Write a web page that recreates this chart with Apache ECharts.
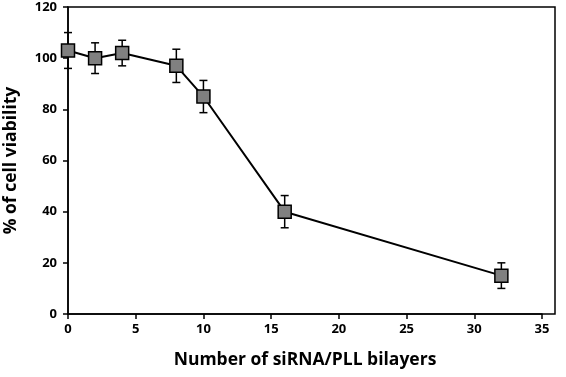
<!DOCTYPE html>
<html>
<head>
<meta charset="utf-8">
<script src="https://cdn.jsdelivr.net/npm/echarts@6/dist/echarts.min.js"></script>
<style>
  html, body { margin: 0; padding: 0; background: #fff; }
  #chart { width: 566px; height: 377px; }
</style>
</head>
<body>
<div id="chart"></div>
<script>
// bilayer counts and viability (%) with error (+/-)
const layers = [0, 2, 4, 8, 10, 16, 32];
const viability = [103, 100, 102, 97, 85, 40, 15];
const errors = [7, 6, 5, 6.5, 6.3, 6.3, 5];
const xTicks = [0, 5, 10, 15, 20, 25, 30, 35];
const yTicks = [0, 20, 40, 60, 80, 100, 120];

const font = 'Open Sans, Liberation Sans, sans-serif';

const lineData = layers.map((x, i) => [x, viability[i]]);
const errData = layers.map((x, i) => [x, viability[i] - errors[i], viability[i] + errors[i]]);

const chart = echarts.init(document.getElementById('chart'));

chart.setOption({
  animation: false,
  grid: [
    { left: 68, right: 24, top: 7, bottom: 63, containLabel: false, outerBoundsMode: 'none' },
    // outer box (plot area border extends past the last x tick)
    { left: 68, right: 11, top: 7, bottom: 63, outerBoundsMode: 'none', show: true, borderColor: '#000', borderWidth: 1.5, backgroundColor: 'transparent' }
  ],
  xAxis: [{
    type: 'value', gridIndex: 0, min: xTicks[0], max: xTicks[xTicks.length - 1], interval: 5,
    name: 'Number of siRNA/PLL bilayers', nameLocation: 'middle', nameGap: 37,
    nameTextStyle: { fontFamily: font, fontWeight: 'bold', fontSize: 17.5, color: '#000' },
    axisLine: { onZero: false, lineStyle: { color: '#000', width: 1.5 } },
    axisTick: { show: true, length: 5, lineStyle: { color: '#000', width: 1.5 } },
    axisLabel: { fontFamily: font, fontWeight: 'bold', fontSize: 13, color: '#000', margin: 9 },
    splitLine: { show: false }
  }, {
    type: 'value', gridIndex: 1, show: false, min: 0, max: 1
  }],
  yAxis: [{
    type: 'value', gridIndex: 0, min: yTicks[0], max: yTicks[yTicks.length - 1], interval: 20,
    name: '% of cell viability', nameLocation: 'middle', nameGap: 48,
    nameTextStyle: { fontFamily: font, fontWeight: 'bold', fontSize: 17.5, color: '#000' },
    axisLine: { show: true, onZero: false, lineStyle: { color: '#000', width: 1.5 } },
    axisTick: { show: true, length: 5, lineStyle: { color: '#000', width: 1.5 } },
    axisLabel: { fontFamily: font, fontWeight: 'bold', fontSize: 13, color: '#000', margin: 11 },
    splitLine: { show: false }
  }, {
    type: 'value', gridIndex: 1, show: false, min: 0, max: 1
  }],
  series: [{
    type: 'line',
    xAxisIndex: 0, yAxisIndex: 0,
    data: lineData,
    lineStyle: { color: '#000', width: 2 },
    symbol: 'rect', symbolSize: 13,
    itemStyle: { color: '#808080', borderColor: '#000', borderWidth: 1.5 },
    z: 3
  }, {
    type: 'custom',
    xAxisIndex: 0, yAxisIndex: 0,
    data: errData,
    z: 2,
    renderItem: (params, api) => {
      const lo = api.coord([api.value(0), api.value(1)]);
      const hi = api.coord([api.value(0), api.value(2)]);
      const cap = 4;
      const style = { stroke: '#000', lineWidth: 1.5 };
      return {
        type: 'group',
        children: [
          { type: 'line', shape: { x1: hi[0], y1: hi[1], x2: lo[0], y2: lo[1] }, style },
          { type: 'line', shape: { x1: hi[0] - cap, y1: hi[1], x2: hi[0] + cap, y2: hi[1] }, style },
          { type: 'line', shape: { x1: lo[0] - cap, y1: lo[1], x2: lo[0] + cap, y2: lo[1] }, style }
        ]
      };
    }
  }]
});
</script>
</body>
</html>
